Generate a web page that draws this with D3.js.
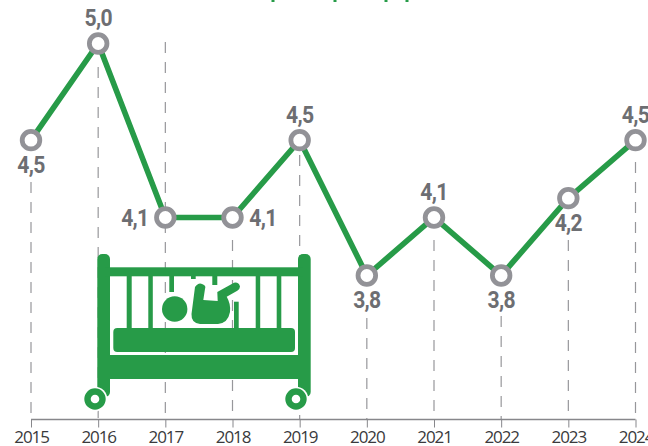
<!DOCTYPE html>
<html><head><meta charset="utf-8">
<script src="https://cdn.jsdelivr.net/npm/d3@7"></script>
<style>html,body{margin:0;padding:0;background:#fff}svg{display:block}</style></head>
<body><svg id="c" width="648" height="446"></svg>
<script>
const years=[2015,2016,2017,2018,2019,2020,2021,2022,2023,2024];
const values=[4.5,5.0,4.1,4.1,4.5,3.8,4.1,3.8,4.2,4.5];
const labelPlace=["below","above","left","right","above","below","above","below","below","above"];
const dashStart=[182,67,42,240,155,318,240,316,240,162];

const svg=d3.select("#c");
const x=d3.scalePoint().domain(years).range([31,635.5]);
const y=d3.scaleLinear().domain([3.8,5]).range([275.5,43.5]);
const axisY=419.5;
const green="#279b48",grey="#929297",lab="#6d6e72";

svg.append("g").selectAll("line").data(years).join("line")
 .attr("x1",d=>x(d)).attr("x2",d=>x(d))
 .attr("y1",(d,i)=>dashStart[i]).attr("y2",axisY)
 .attr("stroke","#97979b").attr("stroke-width",1.2).attr("stroke-dasharray","11 9");

const ax=svg.append("g").attr("transform",`translate(0,${axisY})`)
 .call(d3.axisBottom(x).tickSize(8).tickPadding(3));
ax.select(".domain").attr("d",`M${x(2015)},0H${x(2024)}`).attr("stroke","#87878b").attr("stroke-width",1.3);
ax.selectAll(".tick line").attr("stroke","#87878b").attr("stroke-width",1);
ax.selectAll("text").attr("font-family","'Open Sans'").attr("font-size",17).attr("fill","#3a3a3c").attr("letter-spacing",-1.1);

svg.append("path").datum(values)
 .attr("d",d3.line().x((d,i)=>x(years[i])).y(d=>y(d)))
 .attr("fill","none").attr("stroke",green).attr("stroke-width",5.6);

svg.append("g").selectAll("circle").data(values).join("circle")
 .attr("cx",(d,i)=>x(years[i])).attr("cy",d=>y(d)).attr("r",8.8)
 .attr("fill","#fff").attr("stroke",grey).attr("stroke-width",4.8);

const off={below:[0,33],above:[0,-17],left:[-30.5,8.5],right:[30.5,8.5]};
svg.append("g").selectAll("text").data(values).join("text")
 .attr("x",(d,i)=>x(years[i])+off[labelPlace[i]][0])
 .attr("y",(d,i)=>y(d)+off[labelPlace[i]][1])
 .attr("text-anchor","middle")
 .attr("font-family","Roboto").attr("font-weight",700).attr("font-size",24)
 .attr("letter-spacing",-0.8)
 .attr("transform",(d,i)=>{const X=x(years[i])+off[labelPlace[i]][0];return `translate(${X},0) scale(0.88,1) translate(${-X},0)`;})
 .attr("fill",lab).text(d=>d3.format(".1f")(d).replace(".",","));

// title descenders cut off by the top edge
const titleCuts=[273,335,386,407];
svg.append("g").selectAll("rect").data(titleCuts).join("rect")
 .attr("x",d=>d-1.5).attr("y",0).attr("width",3).attr("height",2).attr("fill",green);

// crib icon
const crib=svg.append("g").attr("fill",green);
const R=(a,b,w,h,r=0)=>crib.append("rect").attr("x",a).attr("y",b).attr("width",w).attr("height",h).attr("rx",r);
R(97.3,254,12.7,143,5);R(298,254,12.7,143,5);
R(105,267.3,198,9);R(105,355,198,24);
R(113.3,328,181.7,24,4);
[[126.7,276,5,52],[148.3,276,4.5,52],[169.3,276,4.7,16],[191,276,4.7,3],[212.3,276,5,9],[234,301.7,4.7,27],[255.7,276,4.5,52],[276.7,276,4.6,52]]
 .forEach(b=>R(...b));
crib.append("circle").attr("cx",174.7).attr("cy",309).attr("r",12.7);
crib.append("path").attr("d","M195 287 Q199 281 204 285 Q206 286 205 289 L203.3 300 L217.7 301 L217.3 292 L234 282.7 Q239 282 240 286.5 Q240 289 237.3 290.7 L226.7 296.7 Q231 304 230 312 Q228 323 218 324 L200 324 Q191 323 191.5 314 Z");
const wheels=[95,296];
svg.append("g").selectAll(".h").data(wheels).join("circle")
 .attr("cx",d=>d).attr("cy",399).attr("r",12.3).attr("fill","#fff");
svg.append("g").selectAll(".w").data(wheels).join("circle")
 .attr("cx",d=>d).attr("cy",399).attr("r",7.5)
 .attr("fill","#fff").attr("stroke",green).attr("stroke-width",6.4);
</script></body></html>
